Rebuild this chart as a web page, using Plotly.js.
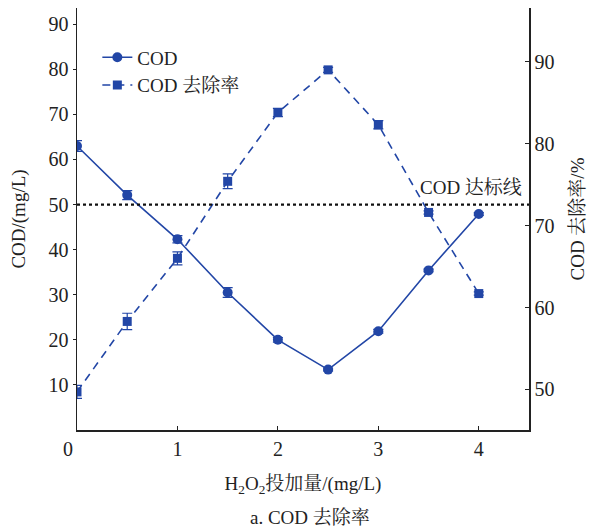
<!DOCTYPE html>
<html>
<head>
<meta charset="utf-8">
<script src="https://cdn.plot.ly/plotly-3.0.1.min.js"></script>
<style>html,body{margin:0;padding:0;background:#fff;}#chart{width:604px;height:531px;}</style>
</head>
<body>
<div id="chart"></div>
<script>
// Data
const dose = [0, 0.5, 1, 1.5, 2, 2.5, 3, 3.5, 4];
const codValues = [63.0, 52.1, 42.3, 30.5, 20.0, 13.4, 21.9, 35.4, 47.9];
const codErr = [1.2, 1.0, 0.8, 1.1, 0.5, 0.3, 0.4, 0.3, 0.3];
const removalValues = [49.7, 58.3, 66.0, 75.4, 83.8, 89.0, 82.3, 71.6, 61.7];
const removalErr = [0.8, 1.0, 0.8, 0.9, 0.5, 0.3, 0.5, 0.2, 0.2];
const xTicks = [0, 1, 2, 3, 4];
const yLeftTicks = [10, 20, 30, 40, 50, 60, 70, 80, 90];
const yRightTicks = [50, 60, 70, 80, 90];
const standardLevel = 50;

const blue = '#2246a6';
const FONT = '"Liberation Serif", "Times New Roman", "Noto Serif CJK SC", "Noto Sans CJK SC", serif';

const traces = [
  {
    x: dose, y: codValues, name: 'COD', type: 'scatter', mode: 'lines+markers',
    line: {color: blue, width: 1.6},
    marker: {symbol: 'circle', size: 10, color: blue},
    error_y: {type: 'data', array: codErr, visible: true, color: blue, thickness: 1.2, width: 5},
    yaxis: 'y'
  },
  {
    x: dose, y: removalValues, name: 'COD 去除率', type: 'scatter', mode: 'lines+markers',
    line: {color: blue, width: 1.6, dash: '8px,6px'},
    marker: {symbol: 'square', size: 9, color: blue},
    error_y: {type: 'data', array: removalErr, visible: true, color: blue, thickness: 1.2, width: 5},
    yaxis: 'y2'
  }
];

const layout = {
  width: 604, height: 531,
  margin: {l: 77, r: 75, t: 8, b: 100.5},
  paper_bgcolor: '#fff', plot_bgcolor: '#fff',
  font: {family: FONT, size: 20, color: '#222'},
  showlegend: true,
  legend: {x: 0.045, y: 0.928, xanchor: 'left', yanchor: 'top', bgcolor: 'rgba(0,0,0,0)',
           font: {family: FONT, size: 19, color: '#222'}, tracegroupgap: 0},
  xaxis: {
    range: [0, 4.5], tickvals: xTicks.slice(1), ticktext: xTicks.slice(1).map(String),
    showline: true, linecolor: '#222', linewidth: 1.5, mirror: false,
    ticks: 'inside', ticklen: 4, tickcolor: '#222', showgrid: false, zeroline: false,
    tickfont: {family: FONT, size: 20, color: '#222'},
    title: {text: 'H<sub>2</sub>O<sub>2</sub>投加量/(mg/L)', standoff: 18, font: {family: FONT, size: 19, color: '#222'}}
  },
  yaxis: {
    range: [0, 93.6], tickvals: yLeftTicks,
    showline: true, linecolor: '#222', linewidth: 1.5,
    ticks: 'outside', ticklen: 3, tickcolor: '#222', showgrid: false, zeroline: false,
    tickfont: {family: FONT, size: 20, color: '#222'},
    title: {text: 'COD/(mg/L)', standoff: 18, font: {family: FONT, size: 19, color: '#222'}}
  },
  yaxis2: {
    range: [45.05, 96.55], tickvals: yRightTicks, overlaying: 'y', side: 'right',
    showline: true, linecolor: '#222', linewidth: 1.5,
    ticks: 'inside', ticklen: 4, tickcolor: '#222', showgrid: false, zeroline: false,
    tickfont: {family: FONT, size: 20, color: '#222'},
    title: {text: 'COD 去除率/%', standoff: 17, font: {family: FONT, size: 19, color: '#222'}}
  },
  shapes: [
    {type: 'line', xref: 'paper', x0: 0, x1: 1, yref: 'y', y0: standardLevel, y1: standardLevel,
     line: {color: '#111', width: 2.2, dash: 'dot'}}
  ],
  annotations: [
    {text: '0', xref: 'x', x: 0, yref: 'paper', y: 0, xanchor: 'center', yanchor: 'top',
     xshift: -9, yshift: -6, showarrow: false, font: {family: FONT, size: 20, color: '#222'}},
    {text: 'COD 达标线', xref: 'paper', x: 1, xanchor: 'right', xshift: -5,
     yref: 'y', y: standardLevel, yanchor: 'bottom', yshift: 5, showarrow: false,
     font: {family: FONT, size: 19, color: '#222'}},
    {text: 'a. COD 去除率', xref: 'paper', x: 0.516, xanchor: 'center',
     yref: 'paper', y: 0, yanchor: 'middle', yshift: -87, showarrow: false,
     font: {family: FONT, size: 19, color: '#222'}}
  ]
};

Plotly.newPlot('chart', traces, layout, {displayModeBar: false, staticPlot: true});
</script>
</body>
</html>
